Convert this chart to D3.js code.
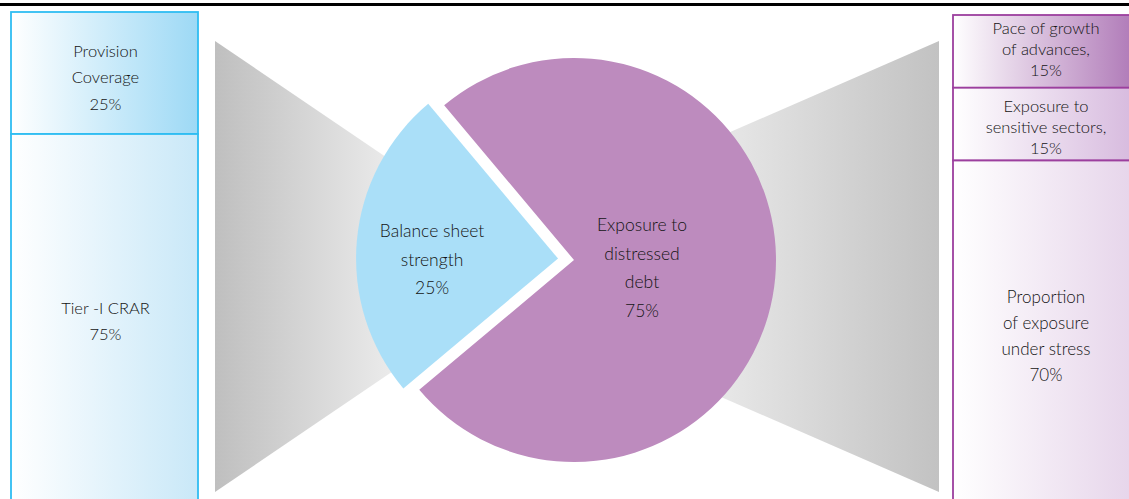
<!DOCTYPE html>
<html>
<head>
<meta charset="utf-8">
<script src="https://cdn.jsdelivr.net/npm/d3@7"></script>
<style>
  html, body { margin: 0; padding: 0; background: #fff; }
  svg { display: block; }
  text { font-family: Lato, "Open Sans", sans-serif; font-weight: 300; fill: #141414; }
</style>
</head>
<body>
<svg id="chart" width="1129" height="499"></svg>
<script>
// ---------- data ----------
const pieCategories = ["Exposure to distressed debt", "Balance sheet strength"];
const pieValues = [75, 25];
const pieLabelLines = [["Exposure to", "distressed", "debt", "75%"], ["Balance sheet", "strength", "25%"]];

const leftCategories = ["Provision Coverage", "Tier -I CRAR"];
const leftValues = [25, 75];
const leftLabelLines = [["Provision", "Coverage", "25%"], ["Tier -I CRAR", "75%"]];

const rightCategories = ["Pace of growth of advances", "Exposure to sensitive sectors", "Proportion of exposure under stress"];
const rightValues = [15, 15, 70];
const rightLabelLines = [["Pace of growth", "of advances,", "15%"], ["Exposure to", "sensitive sectors,", "15%"], ["Proportion", "of exposure", "under stress", "70%"]];

// ---------- layout ----------
const W = 1129, H = 499;
const svg = d3.select("#chart");
const defs = svg.append("defs");

function hGrad(id, x1, x2, c1, c2) {
  const g = defs.append("linearGradient").attr("id", id)
    .attr("gradientUnits", "userSpaceOnUse")
    .attr("x1", x1).attr("x2", x2).attr("y1", 0).attr("y2", 0);
  g.append("stop").attr("offset", 0).attr("stop-color", c1);
  g.append("stop").attr("offset", 1).attr("stop-color", c2);
}

// top rule
svg.append("rect").attr("x", 0).attr("y", 3).attr("width", W).attr("height", 3).attr("fill", "#000");

// gray funnels
hGrad("gL", 215, 400, "#bfbfbf", "#ededed");
hGrad("gR", 939, 730, "#c2c2c2", "#e6e6e6");
const funnelL = { x: 215, y0: 41, y1: 492, apexX: 547 };
const funnelR = { x: 939, y0: 41, y1: 492, apexX: 422, cutX: 650 };
const midL = (funnelL.y0 + funnelL.y1) / 2;
svg.append("path").attr("fill", "url(#gL)")
  .attr("d", d3.line()([[funnelL.x, funnelL.y0], [funnelL.apexX, midL], [funnelL.x, funnelL.y1]]) + "Z");
const midR = (funnelR.y0 + funnelR.y1) / 2;
const slopeR = (midR - funnelR.y0) / (funnelR.x - funnelR.apexX);
const hCut = (funnelR.cutX - funnelR.apexX) * slopeR;
svg.append("path").attr("fill", "url(#gR)")
  .attr("d", d3.line()([[funnelR.x, funnelR.y0], [funnelR.cutX, midR - hCut], [funnelR.cutX, midR + hCut], [funnelR.x, funnelR.y1]]) + "Z");

// ---------- left stacked boxes ----------
const leftBox = { x0: 11, x1: 198 };
const yLeft = d3.scaleLinear().domain([0, d3.sum(leftValues)]).range([12, 500]);
const leftFills = [["#ffffff", "#9dd9f5"], ["#ffffff", "#c9e8f8"]];
let accL = 0;
leftValues.forEach((v, i) => {
  const y0 = yLeft(accL), y1 = yLeft(accL + v);
  accL += v;
  hGrad("lg" + i, leftBox.x0, leftBox.x1, leftFills[i][0], leftFills[i][1]);
  svg.append("rect").attr("x", leftBox.x0).attr("y", y0)
    .attr("width", leftBox.x1 - leftBox.x0).attr("height", y1 - y0)
    .attr("fill", "url(#lg" + i + ")").attr("stroke", "#2fbdf2").attr("stroke-width", 1.8);
  const lines = leftLabelLines[i], lh = 26.5;
  const mid = (y0 + y1) / 2 + 10;
  const t = svg.append("text").attr("text-anchor", "middle").attr("font-size", 16.5);
  lines.forEach((s, k) => {
    t.append("tspan").attr("x", (leftBox.x0 + leftBox.x1) / 2 + 1)
      .attr("y", mid + (k - (lines.length - 1) / 2) * lh).text(s);
  });
});

// ---------- right stacked boxes ----------
const rightBox = { x0: 953, x1: 1139 };
const yRight = d3.scaleLinear().domain([0, d3.sum(rightValues)]).range([15, 500]);
const rightFills = [["#ffffff", "#b27eba"], ["#ffffff", "#d8bcdf"], ["#ffffff", "#e7d6eb"]];
const rightLH = [21, 21, 26];
const rightOff = [4, 9, 12];
const rightSize = [16.5, 16.5, 17];
let accR = 0;
rightValues.forEach((v, i) => {
  const y0 = yRight(accR), y1 = yRight(accR + v);
  accR += v;
  hGrad("rg" + i, rightBox.x0, 1129, rightFills[i][0], rightFills[i][1]);
  svg.append("rect").attr("x", rightBox.x0).attr("y", y0)
    .attr("width", rightBox.x1 - rightBox.x0).attr("height", y1 - y0)
    .attr("fill", "url(#rg" + i + ")").attr("stroke", "#9c3f9e").attr("stroke-width", 1.8);
  const lines = rightLabelLines[i], lh = rightLH[i];
  const mid = (y0 + y1) / 2 + rightOff[i];
  const t = svg.append("text").attr("text-anchor", "middle").attr("font-size", rightSize[i]);
  lines.forEach((s, k) => {
    t.append("tspan").attr("x", (rightBox.x0 + rightBox.x1) / 2)
      .attr("y", mid + (k - (lines.length - 1) / 2) * lh).text(s);
  });
});

// ---------- pie ----------
const cx = 574, cy = 260, R = 202, explode = 16;
const pieColors = ["#bd8bbe", "#aadff8"];
const pie = d3.pie().sort(null).value(d => d)
  .startAngle(-40 * Math.PI / 180).endAngle(320 * Math.PI / 180);
const arcs = pie(pieValues);
const arc = d3.arc().innerRadius(0).outerRadius(R);
const explodeBy = [0, explode];
const labelOffsets = [[68, 8], [-126, 1]];
const g = svg.append("g").attr("transform", `translate(${cx},${cy})`);
arcs.forEach((a, i) => {
  const mid = (a.startAngle + a.endAngle) / 2;
  const dx = Math.sin(mid) * explodeBy[i], dy = -Math.cos(mid) * explodeBy[i];
  const sg = g.append("g").attr("transform", `translate(${dx},${dy})`);
  sg.append("path").attr("d", arc(a)).attr("fill", pieColors[i]);
  const lines = pieLabelLines[i], lh = 28.7;
  const t = sg.append("text").attr("text-anchor", "middle").attr("font-size", 17.5);
  lines.forEach((s, k) => {
    t.append("tspan").attr("x", labelOffsets[i][0])
      .attr("y", labelOffsets[i][1] + 6 + (k - (lines.length - 1) / 2) * lh).text(s);
  });
});
</script>
</body>
</html>
